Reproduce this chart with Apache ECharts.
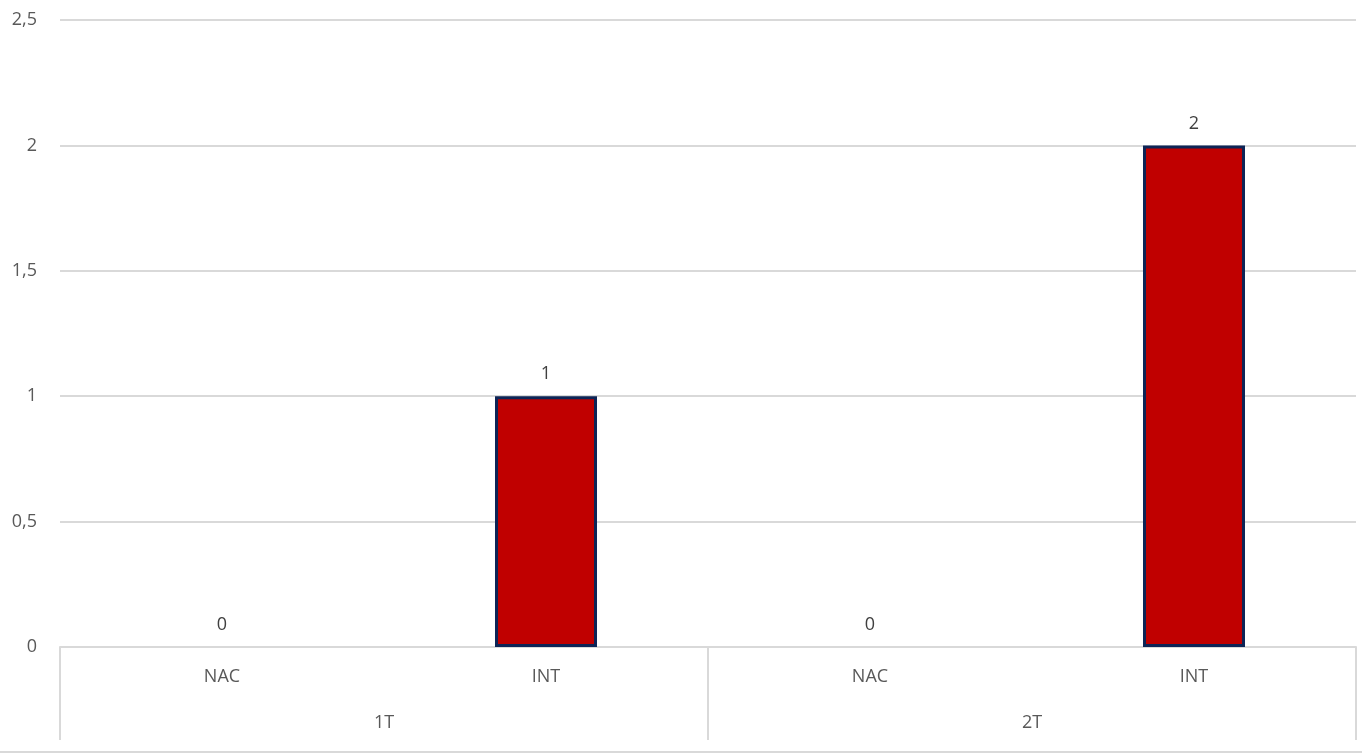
<!DOCTYPE html>
<html><head><meta charset="utf-8">
<script src="https://cdn.jsdelivr.net/npm/echarts@6/dist/echarts.min.js"></script>
<style>html,body{margin:0;padding:0;background:#fff}#c{width:1362px;height:753px}</style>
</head><body><div id="c"></div>
<script>
const categories = ['NAC', 'INT', 'NAC', 'INT'];
const groups = ['1T', '2T'];
const values = [0, 1, 0, 2];
const yTicks = [0, 0.5, 1, 1.5, 2, 2.5];

const chart = echarts.init(document.getElementById('c'));
const font = "'Open Sans', 'Noto Sans', sans-serif";
chart.setOption({
  animation: false,
  grid: { left: 60, right: 6, top: 20, bottom: 106 },
  xAxis: [
    { type: 'category', data: categories, position: 'bottom',
      axisLine: { lineStyle: { color: '#d9d9d9', width: 2 } },
      axisTick: { show: false },
      axisLabel: { color: '#595959', fontSize: 18, fontFamily: font, margin: 21 } },
    { type: 'category', data: groups, position: 'bottom',
      axisLine: { show: false },
      axisTick: { show: true, length: 93, lineStyle: { color: '#d9d9d9', width: 2 } },
      axisLabel: { color: '#595959', fontSize: 18, fontFamily: font, margin: 67 } }
  ],
  yAxis: {
    type: 'value', min: 0, max: 2.5, interval: 0.5,
    axisLine: { show: false }, axisTick: { show: false },
    splitLine: { lineStyle: { color: '#d9d9d9', width: 2 } },
    axisLabel: { color: '#595959', fontSize: 18, fontFamily: font, margin: 23,
      formatter: v => yTicks.includes(v) ? String(v).replace('.', ',') : '' }
  },
  graphic: [{ type: 'line', shape: { x1: 0, y1: 752, x2: 1362, y2: 752 },
    style: { stroke: '#d9d9d9', lineWidth: 2 } }],
  series: [{
    type: 'bar', xAxisIndex: 0, barWidth: 102,
    data: values.map(v => ({ value: v, itemStyle: v === 0 ? { borderWidth: 0 } : {} })),
    itemStyle: { color: '#c00000', borderColor: '#0d2456', borderWidth: 3 },
    label: { show: true, position: 'top', distance: 13, color: '#404040', fontSize: 18, fontFamily: font }
  }]
});
</script></body></html>
